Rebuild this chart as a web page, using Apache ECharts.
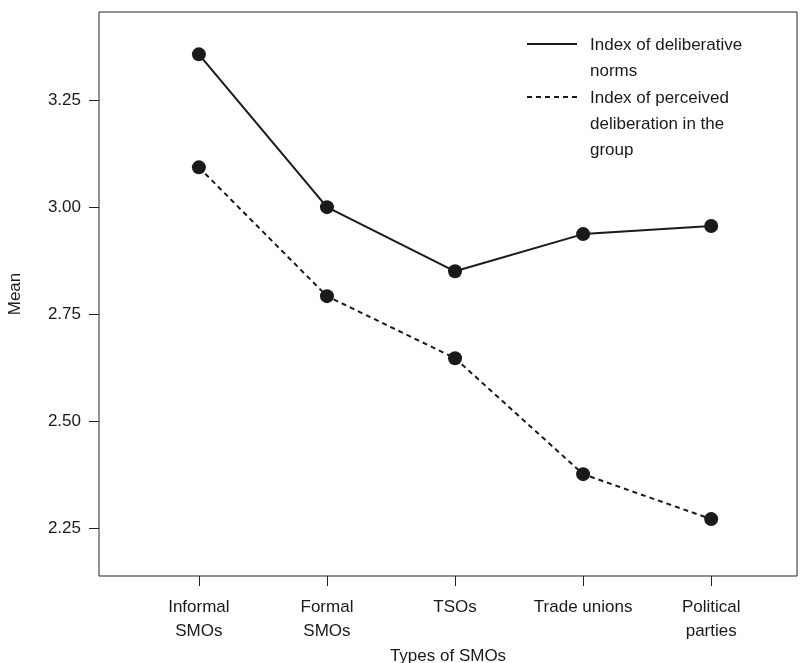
<!DOCTYPE html>
<html>
<head>
<meta charset="utf-8">
<script src="https://cdn.jsdelivr.net/npm/echarts@6/dist/echarts.min.js"></script>
<style>html,body{margin:0;padding:0;background:#fff}#c{width:809px;height:663px}</style>
</head>
<body>
<div id="c"></div>
<script>
var categories = ['Informal\nSMOs', 'Formal\nSMOs', 'TSOs', 'Trade unions', 'Political\nparties'];
var deliberativeNorms = [3.357, 3.00, 2.85, 2.937, 2.956];
var perceivedDeliberation = [3.093, 2.792, 2.647, 2.376, 2.271];
var yTicks = [2.25, 2.50, 2.75, 3.00, 3.25];
var seriesNames = ['Index of deliberative\nnorms', 'Index of perceived\ndeliberation in the\ngroup'];
var yName = 'Mean';
var xName = 'Types of SMOs';

var font = 'Liberation Sans, Arial, sans-serif';
var ink = '#1a1a1a';
function pts(arr){ return arr.map(function(v,i){ return [i+1, v]; }); }

var chart = echarts.init(document.getElementById('c'), null, {renderer:'canvas'});
chart.setOption({
  animation: false,
  backgroundColor: '#fff',
  grid: {left: 99, right: 12, top: 12, bottom: 87, containLabel: false, outerBoundsMode: 'none',
         show: true, borderColor: '#222', borderWidth: 1, backgroundColor: 'transparent'},
  xAxis: {
    type: 'value', min: 0.22, max: 5.67,
    name: xName, nameLocation: 'middle', nameGap: 63,
    nameTextStyle: {fontFamily: font, fontSize: 17, color: ink},
    axisLine: {show: false},
    splitLine: {show: false},
    axisTick: {show: true, customValues: [1,2,3,4,5], length: 10, lineStyle: {color: '#222', width: 1}},
    axisLabel: {customValues: [1,2,3,4,5], margin: 19, fontFamily: font, fontSize: 17, color: ink, lineHeight: 24,
      formatter: function(v){ return categories[Math.round(v)-1] || ''; }}
  },
  yAxis: {
    type: 'value', min: 2.138, max: 3.456,
    name: yName, nameLocation: 'middle', nameGap: 75, nameRotate: 90,
    nameTextStyle: {fontFamily: font, fontSize: 17, color: ink},
    axisLine: {show: false},
    splitLine: {show: false},
    axisTick: {show: true, customValues: yTicks, length: 10, lineStyle: {color: '#222', width: 1}},
    axisLabel: {customValues: yTicks, margin: 18, fontFamily: font, fontSize: 17, color: ink,
      formatter: function(v){ return v.toFixed(2); }}
  },
  series: [
    {name: seriesNames[0], type: 'line', data: pts(deliberativeNorms), symbol: 'circle', symbolSize: 14,
     lineStyle: {color: ink, width: 2}, itemStyle: {color: ink}},
    {name: seriesNames[1], type: 'line', data: pts(perceivedDeliberation), symbol: 'circle', symbolSize: 14,
     lineStyle: {color: ink, width: 2, type: [5,4]}, itemStyle: {color: ink}}
  ],
  graphic: [
    {type: 'line', shape: {x1: 527, y1: 44, x2: 577, y2: 44}, style: {stroke: ink, lineWidth: 2}},
    {type: 'text', left: 590, top: 32, style: {text: seriesNames[0], font: '17px ' + font, fill: ink, lineHeight: 26}},
    {type: 'line', shape: {x1: 527, y1: 97, x2: 577, y2: 97}, style: {stroke: ink, lineWidth: 2, lineDash: [5,4]}},
    {type: 'text', left: 590, top: 85, style: {text: seriesNames[1], font: '17px ' + font, fill: ink, lineHeight: 26}}
  ]
});
</script>
</body>
</html>
